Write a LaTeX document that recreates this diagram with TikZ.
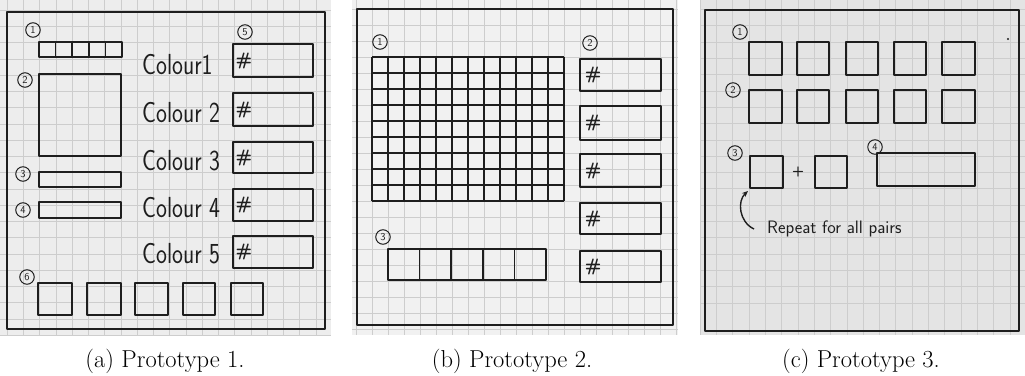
\documentclass[tikz,border=0pt]{standalone}
\usepackage{tikz}
\usetikzlibrary{arrows.meta, positioning}

\definecolor{inkcol}{HTML}{1E1E1E}
\definecolor{gridcol}{HTML}{CDCDCD}
\definecolor{paperA}{HTML}{EDEDED}
\definecolor{paperB}{HTML}{F1F1F1}
\definecolor{paperC}{HTML}{E4E4E4}

\tikzset{
  ink/.style={draw=inkcol, line width=1.7pt, line join=round},
  gridline/.style={draw=gridcol, line width=0.5pt},
  num/.style={draw=inkcol, circle, line width=1pt, minimum size=14.5pt, inner sep=0pt,
    text=inkcol, font=\sffamily\fontsize{10.5}{10.5}\selectfont},
  hand/.style={font=\sffamily\fontsize{29}{31}\selectfont, xscale=0.8, anchor=base west,
    inner sep=0pt, text=inkcol},
  hash/.style={font=\sffamily\bfseries\fontsize{18}{18}\selectfont, inner sep=0pt, text=inkcol},
  note/.style={font=\sffamily\fontsize{18}{20}\selectfont, anchor=base west, inner sep=0pt, text=inkcol},
  caption/.style={font=\fontsize{24.5}{27}\selectfont, anchor=base, inner sep=0pt}
}

\begin{document}
\begin{tikzpicture}[x=1pt, y=-1pt]
  \useasboundingbox (0,0) rectangle (1025,375);

  % Paper sheets
  \fill[paperA] (0,0) rectangle (331,335);
  \fill[paperB] (352,0) rectangle (678,335);
  \fill[paperC] (700,0) rectangle (1025,335);

  % Squared paper
  \begin{scope}
    \clip (0,0) rectangle (331,335);
    \foreach \i in {0,...,20} {
      \draw[gridline] ({7+16.25*\i},0) -- ++(0,335);
      \draw[gridline] (0,{10+16.25*\i}) -- ++(331,0);
    }
  \end{scope}
  \begin{scope}
    \clip (352,0) rectangle (678,335);
    \foreach \i in {-1,...,20} {
      \draw[gridline] ({372+16*\i},0) -- ++(0,335);
      \draw[gridline] (352,{9+16*\i}) -- ++(326,0);
    }
  \end{scope}
  \begin{scope}
    \clip (700,0) rectangle (1025,335);
    \foreach \i in {-3,...,18} {
      \draw[gridline] ({749+16.3*\i},0) -- ++(0,335);
      \draw[gridline] (700,{9.4+16.3*\i}) -- ++(325,0);
    }
  \end{scope}

  % Prototype 1
  \draw[ink] (7,12) rectangle (325,329);
  \node[num] (a1) at (33,30) {1};
  \draw[ink] (39,42) rectangle (122,57);
  \foreach \x in {55.6,72.2,88.8,105.4}
    \draw[ink] (\x,42) -- (\x,57);
  \node[num] (a2) at (25,80) {2};
  \draw[ink] (39,74) rectangle (121,156);
  \node[num] (a3) at (23,174) {3};
  \draw[ink] (39,172) rectangle (121,187);
  \node[num] (a4) at (23,210) {4};
  \draw[ink] (39,202) rectangle (121,218);
  \node[num] (a5) at (245,32) {5};
  \foreach \i/\t/\y in {1/Colour1/74, 2/Colour 2/122, 3/Colour 3/170, 4/Colour 4/217, 5/Colour 5/263}
    \node[hand] (colour\i) at (142,\y) {\t};
  \foreach \i/\t/\b in {1/44/77, 2/93/126, 3/142/173, 4/189/221, 5/236/268} {
    \draw[ink] (233,\t) rectangle (313,\b);
    \node[hash] (hashA\i) at (244,{(\t+\b)/2}) {\#};
  }
  \node[num] (a6) at (27,277) {6};
  \foreach \l/\r in {38/72, 87/121, 135/168, 183/215, 231/263}
    \draw[ink] (\l,283) rectangle (\r,315);

  % Prototype 2
  \draw[ink] (357,9) rectangle (673,325);
  \node[num] (b1) at (380,42) {1};
  \foreach \i in {0,...,12}
    \draw[ink] ({372+16*\i},57) -- ({372+16*\i},201);
  \foreach \j in {0,...,9}
    \draw[ink] (372,{57+16*\j}) -- (564,{57+16*\j});
  \node[num] (b2) at (590,43) {2};
  \foreach \i/\t/\b in {1/59/91, 2/106/140, 3/154/187, 4/203/234, 5/251/282} {
    \draw[ink] (580,\t) rectangle (661,\b);
    \node[hash] (hashB\i) at (593,{(\t+\b)/2}) {\#};
  }
  \node[num] (b3) at (383,237) {3};
  \draw[ink] (388,249) rectangle (546,280);
  \foreach \x in {419.6,451.2,482.8,514.4}
    \draw[ink] (\x,249) -- (\x,280);

  % Prototype 3
  \draw[ink] (705,10) rectangle (1019,331);
  \node[num] (c1) at (740,32) {1};
  \node[num] (c2) at (733,90) {2};
  \foreach \l/\r in {749/782, 797/829, 846/878, 894/926, 942/975} {
    \draw[ink] (\l,42) rectangle (\r,75);
    \draw[ink] (\l,90) rectangle (\r,123);
  }
  \fill[inkcol] (1008,39) circle (1.1);
  \node[num] (c3) at (735,153) {3};
  \draw[ink] (750,156) rectangle (783,188);
  \node[text=inkcol, font=\sffamily\bfseries\fontsize{14}{14}\selectfont, inner sep=0pt] (plus) at (798,172) {+};
  \draw[ink] (815,156) rectangle (847,188);
  \node[num] (c4) at (875,147) {4};
  \draw[ink] (877,153) rectangle (975,186);
  \coordinate (pairtail) at (754,229);
  \coordinate (pairtip) at (748,191);
  \draw[ink, line width=1.4pt, -{Stealth[length=6pt,width=5pt]}]
    (pairtail) .. controls (739,222) and (737,201) .. (pairtip);
  \node[note] (repeat) at (767,233) {Repeat for all pairs};

  % Captions
  \node[caption] (capA) at (165,367) {(a) Prototype 1.};
  \node[caption] (capB) at (512,367) {(b) Prototype 2.};
  \node[caption] (capC) at (861,367) {(c) Prototype 3.};
\end{tikzpicture}
\end{document}
